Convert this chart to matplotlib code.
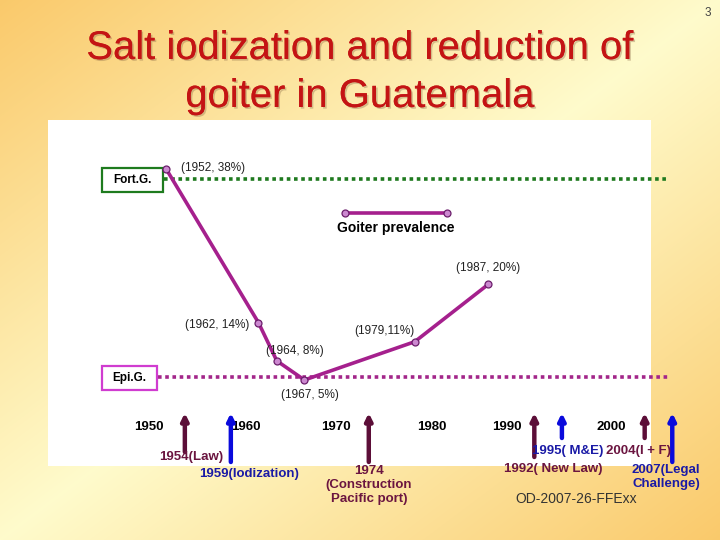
import numpy as np
import matplotlib
matplotlib.use("Agg")
import matplotlib.pyplot as plt
import matplotlib.transforms as mtransforms
import matplotlib.patheffects as pe
from matplotlib.patches import Rectangle
from matplotlib.lines import Line2D

plt.rcParams['font.family'] = ['Liberation Sans', 'DejaVu Sans']

# goiter prevalence surveys
years = [1952, 1962, 1964, 1967, 1979, 1987]
prevalence = [38, 14, 8, 5, 11, 20]
point_labels = ["(1952, 38%)", "(1962, 14%)", "(1964, 8%)", "(1967, 5%)",
                "(1979,11%)", "(1987, 20%)"]

# reference levels
fort_level = 36.5
epi_level = 5.5

decades = [1950, 1960, 1970, 1980, 1990, 2000]

# timeline of events
event_years = [1954, 1959, 1974, 1992, 1995, 2004, 2007]
event_labels = ["1954(Law)", "1959(Iodization)", "1974\n(Construction\nPacific port)",
                "1992( New Law)", "1995( M&E)", "2004(I + F)", "2007(Legal\nChallenge)"]
event_kind = ["law", "salt", "law", "law", "salt", "law", "salt"]

W, H = 720, 540
fig = plt.figure(figsize=(7.2, 5.4), dpi=100)

# slide background gradient
bg = fig.add_axes([0, 0, 1, 1], zorder=0)
xx, yy = np.meshgrid(np.linspace(0, 1, W), np.linspace(0, 1, H))
t = np.abs(xx + yy - 1)[..., None]
orange = np.array([0.98, 0.79, 0.42])
pale = np.array([1.0, 0.985, 0.80])
bg.imshow(pale + (orange - pale) * t, extent=[0, 1, 0, 1], aspect='auto', origin='upper')
bg.axis('off')

ax = fig.add_axes([0, 0, 1, 1], zorder=1)
ax.patch.set_alpha(0)
ax.set_xlim(1933.90, 2012.19)
ax.set_ylim(-20.08, 64.56)
ax.axis('off')

# pixel coords, y from top
px = mtransforms.Affine2D().scale(1 / W, -1 / H).translate(0, 1) + fig.transFigure
xblend = mtransforms.blended_transform_factory(ax.transData, px)

ax.add_patch(Rectangle((48, 120), 603, 346, transform=px, facecolor='white',
                       edgecolor='none', zorder=0))

# title
shadow = [pe.withSimplePatchShadow(offset=(1.2, -1.2), shadow_rgbFace='#886644', alpha=0.35),
          pe.Normal()]
ax.text(360, 59, "Salt iodization and reduction of", transform=px, ha='center',
        va='baseline', fontsize=28.8, color='#C41414', path_effects=shadow)
ax.text(360, 107, "goiter in Guatemala", transform=px, ha='center',
        va='baseline', fontsize=28.8, color='#C41414', path_effects=shadow)
ax.text(708, 13, "3", transform=px, ha='center', va='center', fontsize=8.5, color='#444444')

# reference levels
ax.plot([1951.7, 2006.5], [fort_level] * 2, color='#1F7A1F', lw=2.6,
        linestyle=(0, (1, 1)), zorder=2)
ax.plot([1951.1, 2006.5], [epi_level] * 2, color='#A3268A', lw=2.6,
        linestyle=(0, (1, 1)), zorder=2)
ax.add_patch(Rectangle((102, 168), 61, 24, transform=px, facecolor='white',
                       edgecolor='#1E7B1E', lw=1.6, zorder=3))
ax.text(132, 180, "Fort.G.", transform=px, ha='center', va='center',
        fontsize=8.5, fontweight='bold', zorder=4)
ax.add_patch(Rectangle((102, 366), 55, 24, transform=px, facecolor='white',
                       edgecolor='#D03CD0', lw=1.6, zorder=3))
ax.text(129, 378, "Epi.G.", transform=px, ha='center', va='center',
        fontsize=8.5, fontweight='bold', zorder=4)

# prevalence series
style = dict(color='#A5208D', lw=2.6, marker='o', markersize=5,
             markerfacecolor='#CC88D0', markeredgecolor='#6B1E6B', markeredgewidth=0.9)
ax.plot(years, prevalence, zorder=5, **style)

offsets = [(15, 1, 'left'), (-9, -2, 'right'), (18, 10, 'center'),
           (6, -15, 'center'), (-30, 11, 'center'), (0, 16, 'center')]
for yr, v, lab, (dx, dy, ha) in zip(years, prevalence, point_labels, offsets):
    ax.annotate(lab, xy=(yr, v), xytext=(dx, dy), textcoords='offset pixels',
                ha=ha, va='center', fontsize=8.5, color='#222222', zorder=6)

# legend
ax.add_line(Line2D([345, 447], [213, 213], transform=px, **style))
ax.text(396, 228, "Goiter prevalence", transform=px, ha='center', va='center',
        fontsize=10, fontweight='bold')

# timeline
nudge = [1, 6, 4, 8, -9, 3]
for d, dx in zip(decades, nudge):
    ax.annotate(str(d), xy=(d, 427), xycoords=xblend, xytext=(dx, 0),
                textcoords='offset pixels', ha='center', va='center',
                fontsize=9.5, fontweight='bold', color='black', zorder=3)

arrow_c = {'law': '#5C0E38', 'salt': '#0A0ADC'}
text_c = {'law': '#6B1540', 'salt': '#1A1AA6'}
bottoms = [452, 462, 462, 457, 438, 438, 462]
lab_pos = [(6, 457), (18, 474), (0, 485), (19, 469), (6, 451), (-6, 451), (-6, 477)]
for yr, lab, k, yb, (dx, ly) in zip(event_years, event_labels, event_kind, bottoms, lab_pos):
    ax.annotate('', xy=(yr, 413), xycoords=xblend, xytext=(yr, yb), textcoords=xblend,
                arrowprops=dict(arrowstyle='-|>', color=arrow_c[k], lw=3.2,
                                shrinkA=0, shrinkB=0), zorder=4)
    ax.annotate(lab, xy=(yr, ly), xycoords=xblend, xytext=(dx, 0),
                textcoords='offset pixels', ha='center', va='center',
                fontsize=9.5, fontweight='bold', color=text_c[k],
                linespacing=1.25, zorder=6)

ax.text(576, 499, "OD-2007-26-FFExx", transform=px, ha='center', va='center',
        fontsize=10, color='#333333')

fig.savefig("out.png", dpi=100)
